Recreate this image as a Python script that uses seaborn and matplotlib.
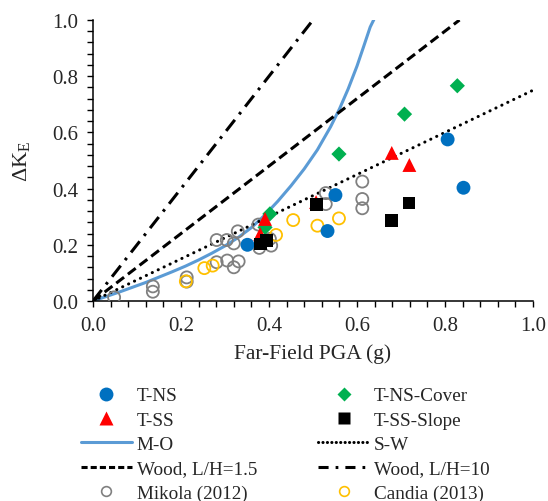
import matplotlib
matplotlib.use("Agg")
import matplotlib.pyplot as plt
import seaborn as sns
import pandas as pd
from matplotlib.lines import Line2D

# ---------------- data ----------------
tns_x = [0.351, 0.551, 0.533, 0.806, 0.842]
tns_y = [0.200, 0.377, 0.249, 0.575, 0.403]

cover_x = [0.402, 0.391, 0.559, 0.708, 0.828]
cover_y = [0.310, 0.262, 0.523, 0.665, 0.766]

tss_x = [0.391, 0.380, 0.507, 0.679, 0.719]
tss_y = [0.292, 0.238, 0.352, 0.527, 0.484]

slope_x = [0.380, 0.395, 0.508, 0.679, 0.718]
slope_y = [0.203, 0.215, 0.342, 0.286, 0.349]

mikola_x = [0.048, 0.136, 0.136, 0.213, 0.213, 0.281, 0.305, 0.320, 0.331,
            0.281, 0.304, 0.320, 0.329, 0.376, 0.378, 0.402, 0.405,
            0.529, 0.529, 0.612, 0.612, 0.612]
mikola_y = [0.013, 0.052, 0.033, 0.084, 0.069, 0.138, 0.144, 0.120, 0.141,
            0.217, 0.217, 0.205, 0.248, 0.272, 0.189, 0.221, 0.197,
            0.384, 0.345, 0.425, 0.363, 0.330]

candia_x = [0.211, 0.253, 0.272, 0.416, 0.455, 0.510, 0.559]
candia_y = [0.070, 0.117, 0.126, 0.235, 0.288, 0.268, 0.294]

mo_x = [0.0, 0.03, 0.06, 0.09, 0.12, 0.15, 0.18, 0.21, 0.24, 0.27, 0.30,
        0.33, 0.36, 0.39, 0.42, 0.45, 0.48, 0.51, 0.54, 0.56, 0.58, 0.60,
        0.615, 0.63, 0.641]
mo_y = [0.0, 0.016, 0.032, 0.049, 0.066, 0.085, 0.104, 0.124, 0.146, 0.170,
        0.196, 0.226, 0.261, 0.305, 0.355, 0.410, 0.470, 0.538, 0.620, 0.683,
        0.755, 0.836, 0.905, 0.975, 1.01]

sw_x = [0.0, 1.0]
sw_y = [0.0, 0.75]

wood15_x = [0.0, 0.833]
wood15_y = [0.0, 1.0]

wood10_x = [0.0, 0.5]
wood10_y = [0.0, 1.0]

xticks = [0.0, 0.2, 0.4, 0.6, 0.8, 1.0]
yticks = [0.0, 0.2, 0.4, 0.6, 0.8, 1.0]

# ---------------- style ----------------
sns.set_style("ticks")
plt.rcParams["font.family"] = ["Liberation Serif", "DejaVu Serif"]
plt.rcParams["mathtext.fontset"] = "custom"
plt.rcParams["mathtext.rm"] = "Liberation Serif"
plt.rcParams["mathtext.it"] = "Liberation Serif:italic"

C_TNS = "#0070C0"
C_COVER = "#00B050"
C_TSS = "#FF0000"
C_SLOPE = "#000000"
C_MO = "#5B9BD5"
C_MIK = "#808080"
C_CAN = "#FFC000"

fig = plt.figure(figsize=(5.48, 5.02), dpi=100)
ax = fig.add_axes([93 / 548, 200 / 502, 440 / 548, 281 / 502])

LW = 2.2

def line(x, y, **kw):
    df = pd.DataFrame({"x": x, "y": y})
    sns.lineplot(data=df, x="x", y="y", ax=ax, sort=False, estimator=None, **kw)

line(mo_x, mo_y, color=C_MO, lw=LW, zorder=2)
line(sw_x, sw_y, color="black", lw=LW, zorder=2,
     linestyle=(0, (0.05, 2.1)), dash_capstyle="round")
line(wood15_x, wood15_y, color="black", lw=LW, zorder=2,
     linestyle=(0, (3.2, 1.6)), dash_capstyle="butt")
line(wood10_x, wood10_y, color="black", lw=LW, zorder=2,
     linestyle=(0, (4.6, 2.3, 0.9, 2.3)), dash_capstyle="butt")

def scat(x, y, **kw):
    df = pd.DataFrame({"x": x, "y": y})
    sns.scatterplot(data=df, x="x", y="y", ax=ax, **kw)

scat(mikola_x, mikola_y, marker="o", s=75, facecolor="none",
     edgecolor=C_MIK, linewidth=1.3, zorder=3)
scat(candia_x, candia_y, marker="o", s=75, facecolor="none",
     edgecolor=C_CAN, linewidth=1.3, zorder=3)
scat(tns_x, tns_y, marker="o", s=100, color=C_TNS, edgecolor="none", zorder=4)
scat(cover_x, cover_y, marker="D", s=60, color=C_COVER, edgecolor="none", zorder=4)
scat(tss_x, tss_y, marker="^", s=100, color=C_TSS, edgecolor="none", zorder=4)
scat(slope_x, slope_y, marker="s", s=85, color=C_SLOPE, edgecolor="none", zorder=5)

ax.set_xlim(0, 1.0)
ax.set_ylim(0, 1.0)
ax.set_xticks(xticks)
ax.set_yticks(yticks)
ax.set_xticklabels([f"{v:.1f}" for v in xticks])
ax.set_yticklabels([f"{v:.1f}" for v in yticks])
ax.set_xticks([i * 0.04 for i in range(26)], minor=True)
ax.set_yticks([i * 0.04 for i in range(26)], minor=True)
ax.tick_params(axis="both", which="both", direction="out", length=4.5,
               width=1.0, color="black", labelsize=15)
ax.tick_params(axis="x", which="major", pad=6)
ax.tick_params(axis="y", which="major", pad=6)
for s in ["top", "right"]:
    ax.spines[s].set_visible(False)
for s in ["left", "bottom"]:
    ax.spines[s].set_linewidth(1.1)
    ax.spines[s].set_color("black")

ax.set_xlabel("Far-Field PGA (g)", fontsize=15.5)
ax.xaxis.set_label_coords(0.5, (302 - 354) / 281)
ax.xaxis.label.set_verticalalignment("center")
ax.set_ylabel(r"ΔK$_{\mathrm{E}}$", fontsize=16)
ax.yaxis.set_label_coords((21 - 93) / 440, 0.5)
ax.yaxis.label.set_verticalalignment("center")

# ---------------- legend ----------------
h_tns = Line2D([], [], ls="none", marker="o", ms=10, color=C_TNS, mec="none")
h_tss = Line2D([], [], ls="none", marker="^", ms=10, color=C_TSS, mec="none")
h_mo = Line2D([], [], color=C_MO, lw=LW)
h_w15 = Line2D([], [], color="black", lw=LW, ls=(0, (2.0, 1.0)))
h_mik = Line2D([], [], ls="none", marker="o", ms=7, mfc="none", mec=C_MIK, mew=1.2)
h_cov = Line2D([], [], ls="none", marker="D", ms=7.5, color=C_COVER, mec="none")
h_slo = Line2D([], [], ls="none", marker="s", ms=8.5, color=C_SLOPE, mec="none")
h_sw = Line2D([], [], color="black", lw=LW, ls=(0, (0.05, 1.4)), dash_capstyle="round")
h_w10 = Line2D([], [], color="black", lw=LW, ls=(0, (3.3, 2.3, 0.9, 2.3)))
h_can = Line2D([], [], ls="none", marker="o", ms=7, mfc="none", mec=C_CAN, mew=1.2)

handles = [h_tns, h_tss, h_mo, h_w15, h_mik, h_cov, h_slo, h_sw, h_w10, h_can]
labels = ["T-NS", "T-SS", "M-O", "Wood, L/H=1.5", "Mikola (2012)",
          "T-NS-Cover", "T-SS-Slope", "S-W", "Wood, L/H=10", "Candia (2013)"]
fig.legend(handles, labels, ncol=2, loc="upper left",
           bbox_to_anchor=(81 / 548, 1 - 388 / 502), frameon=False,
           fontsize=13.8, handlelength=2.65, handletextpad=0.25,
           columnspacing=3.2, labelspacing=0.36, borderpad=0, borderaxespad=0)

fig.savefig("out.png", dpi=100)
